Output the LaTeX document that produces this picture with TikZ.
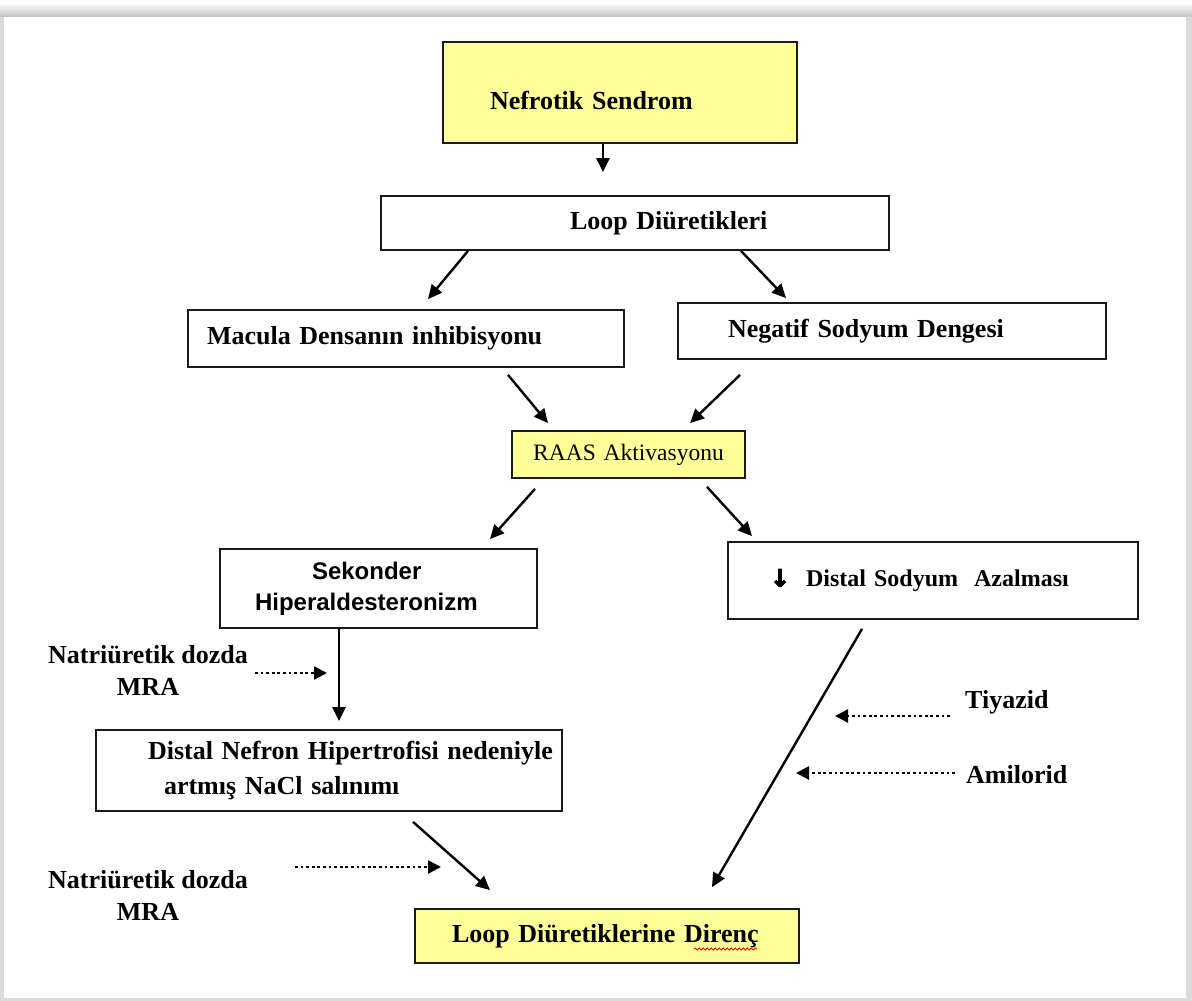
\documentclass[tikz,border=0pt]{standalone}
\usepackage{fontspec}
\setmainfont{Liberation Serif}
\newfontfamily\arialfont{Liberation Sans}
\newfontfamily\arrowglyphfont[FakeBold=4]{DejaVu Sans}
\usepackage{xcolor}
\usepackage{tikz}
\usetikzlibrary{arrows.meta}
\usetikzlibrary{decorations.pathmorphing}

\definecolor{boxyellow}{HTML}{FFFF99}
\definecolor{boxline}{HTML}{1A1A1A}

\tikzset{
  box/.style={draw=boxline, line width=1.8pt, fill=white, align=left, inner xsep=0pt, inner ysep=0pt,
    font=\fontsize{26}{35}\selectfont\bfseries},
  note/.style={inner sep=0pt, align=center, font=\fontsize{26}{32}\selectfont\bfseries},
  arr/.style={line width=2.4pt, -{Triangle[length=14pt,width=13pt]}},
  dotarr/.style={line width=2.6pt, dash pattern=on 2.8pt off 2.8pt, -{Triangle[length=13pt,width=13pt]}}
}

\begin{document}
\begin{tikzpicture}[x=1pt, y=-1pt]

% Page
\useasboundingbox (0,0) rectangle (1192,1001);
\fill[white] (0,0) rectangle (1192,1001);
\shade[top color=white, bottom color=gray!50] (0,3) rectangle (1192,17);
\fill[gray!28] (0,17) rectangle (1192,1001);
\fill[white] (4,17) rectangle (1186,998);

% Boxes
\node [box, fill=boxyellow, text width=354pt, minimum height=101pt, text height=34pt, text depth=0pt] (nefrotik) at (620,92.5) {\hspace*{47pt}Nefrotik Sendrom};
\node [box, text width=508pt, minimum height=54pt] (loop) at (635,223) {\hspace*{189pt}Loop Diüretikleri};
\node [box, text width=436pt, minimum height=57pt] (macula) at (406,338.5) {\hspace*{19pt}Macula Densanın inhibisyonu};
\node [box, text width=428pt, minimum height=56pt] (negatif) at (892,331) {\hspace*{50pt}Negatif Sodyum Dengesi};
\node [box, fill=boxyellow, text width=233pt, minimum height=47pt, align=center, font=\fontsize{23.5}{28}\selectfont] (raas) at (628.5,454.5) {RAAS Aktivasyonu};
\node [box, text width=317pt, minimum height=79pt, font=\fontsize{24}{31}\selectfont\arialfont\bfseries] (sekonder) at (378.5,588.5) {\hspace*{92pt}Sekonder\\\hspace*{35pt}Hiperaldesteronizm};
\node [box, text width=410pt, minimum height=77pt, font=\fontsize{24}{30}\selectfont\bfseries] (distsod) at (933,580.5) {\hspace*{42pt}{\arrowglyphfont ↓}\hspace*{16pt}Distal Sodyum~~Azalması};
\node [box, text width=466pt, minimum height=81pt] (nefron) at (329,770.5) {\hspace*{52pt}Distal Nefron Hipertrofisi nedeniyle\\\hspace*{68pt}artmış NaCl salınımı};
\node [box, fill=boxyellow, text width=384pt, minimum height=54pt] (direnc) at (607,936) {\hspace*{37pt}Loop Diüretiklerine Direnç};

% Side texts
\node [note] (mra1) at (148,670) {Natriüretik dozda\\MRA};
\node [note] (mra2) at (148,895) {Natriüretik dozda\\MRA};
\node [note, anchor=west] (tiyazid) at (965,702) {Tiyazid};
\node [note, anchor=west] (amilorid) at (966,775) {Amilorid};

% Arrows
\draw [arr] ([xshift=-17pt]nefrotik.south) -- ([xshift=-32pt,yshift=23pt]loop.north);
\draw [arr] ([xshift=-167pt]loop.south) -- ([xshift=22pt,yshift=10pt]macula.north);
\draw [arr] ([xshift=106pt]loop.south) -- ([xshift=-106pt,yshift=4pt]negatif.north);
\draw [arr] ([xshift=102pt,yshift=-7pt]macula.south) -- ([xshift=-80.5pt,yshift=7pt]raas.north);
\draw [arr] ([xshift=-152pt,yshift=-15pt]negatif.south) -- ([xshift=61.5pt,yshift=7pt]raas.north);
\draw [arr] ([xshift=-93.5pt,yshift=-10pt]raas.south) -- ([xshift=111.5pt,yshift=9pt]sekonder.north);
\draw [arr] ([xshift=78.5pt,yshift=-8pt]raas.south) -- ([xshift=-181pt,yshift=5pt]distsod.north);
\draw [arr] ([xshift=-39.5pt]sekonder.south) -- ([xshift=10pt,yshift=8pt]nefron.north);
\draw [arr] ([xshift=84pt,yshift=-10pt]nefron.south) -- ([xshift=-117pt,yshift=18pt]direnc.north);
\draw [arr] ([xshift=-71pt,yshift=-9pt]distsod.south) -- ([xshift=105pt,yshift=21pt]direnc.north);

% Dotted arrows
\coordinate (mra1-end) at (327,673);
\coordinate (mra2-end) at (441,867);
\coordinate (tiyazid-end) at (835,716);
\coordinate (amilorid-end) at (796,773);
\draw [dotarr] ([xshift=7pt]mra1.east |- mra1-end) -- (mra1-end);
\draw [dotarr] ([xshift=47pt]mra2.east |- mra2-end) -- (mra2-end);
\draw [dotarr] ([xshift=-15pt]tiyazid.west |- tiyazid-end) -- (tiyazid-end);
\draw [dotarr] ([xshift=-11pt]amilorid.west |- amilorid-end) -- (amilorid-end);

% Spelling mark
\draw [red, line width=0.8pt, decorate, decoration={snake, segment length=4pt, amplitude=1pt}]
  ([xshift=87pt,yshift=-13pt]direnc.center) -- ([xshift=150pt,yshift=-13pt]direnc.center);

\end{tikzpicture}
\end{document}
